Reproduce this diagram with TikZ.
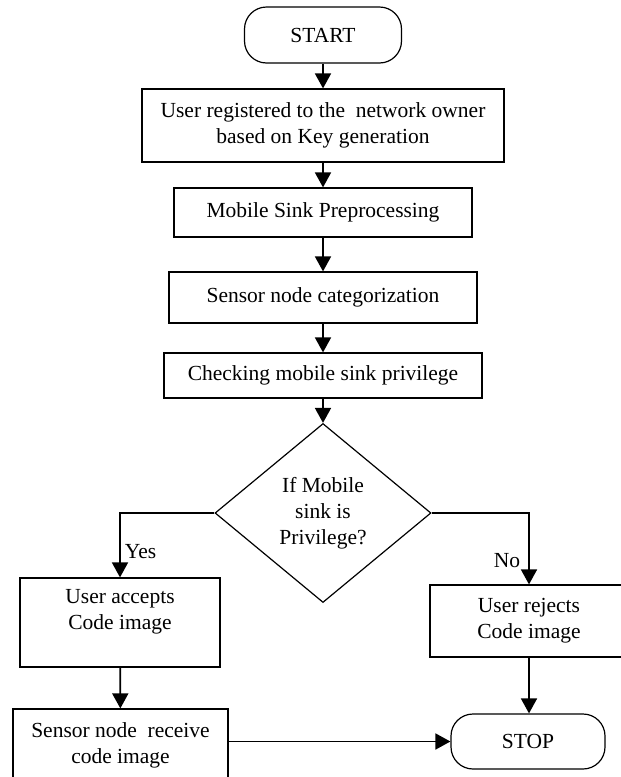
\documentclass[tikz,border=0pt]{standalone}
\usepackage{fontspec}
\setmainfont{Liberation Serif}
\usetikzlibrary{arrows.meta,shapes.geometric}

\begin{document}
\begin{tikzpicture}[x=1pt,y=1pt,->,>={Triangle[length=15pt,width=16pt]},
                    line width=1.8pt,node distance=88pt,
                    font=\fontsize{21.5}{26}\selectfont,
                    box/.style={rectangle,draw,line width=1.2pt,inner sep=0pt,align=center},
                    term/.style={box,rounded corners=22pt},
                    test/.style={diamond,draw,line width=1.2pt,inner sep=0pt,align=center}]

  \useasboundingbox (0,0) rectangle (621,-777);

  \node[term,minimum width=157pt,minimum height=56pt] (0) at (323,-35) {START};
  \node[box,minimum width=362pt,minimum height=73pt]  (1) [below of=0,node distance=90.5pt] {User registered to the\ \ network owner\\based on Key generation};
  \node[box,minimum width=298pt,minimum height=49pt]  (2) [below of=1,node distance=87pt] {Mobile Sink Preprocessing};
  \node[box,minimum width=308pt,minimum height=51pt]  (3) [below of=2,node distance=85pt] {Sensor node categorization};
  \node[box,minimum width=318pt,minimum height=45pt]  (4) [below of=3,node distance=78pt] {Checking mobile sink privilege};
  \node[test,minimum width=216pt,minimum height=179pt] (5) [below of=4,node distance=137.5pt] {If Mobile\\sink is\\Privilege?};

  \node[box,minimum width=200pt,minimum height=89pt]  (6) at (120,-622.5) {User accepts\\Code image\\\mbox{}};
  \node[box,minimum width=198pt,minimum height=72pt]  (7) at (529,-621) {User rejects\\Code image};
  \node[box,minimum width=215pt,minimum height=72pt]  (8) at (120.5,-745) {Sensor node\ \ receive\\code image};
  \node[term,minimum width=154pt,minimum height=55pt] (9) at (528,-741.5) {STOP};

  \path (0) edge (1)
        (1) edge (2)
        (2) edge (3)
        (3) edge (4)
        (4) edge (5)
        (6) edge (8);

  \draw (5.west) -| node[pos=0.8,anchor=west,inner sep=4pt] {Yes} (6);
  \draw (5.east) -| node[pos=0.83,anchor=east,inner sep=8pt] {No} (7);
  \draw (7) -- (7 |- 9.north);
  \draw (9.west -| 8.east) -- (9.west);
\end{tikzpicture}
\end{document}
